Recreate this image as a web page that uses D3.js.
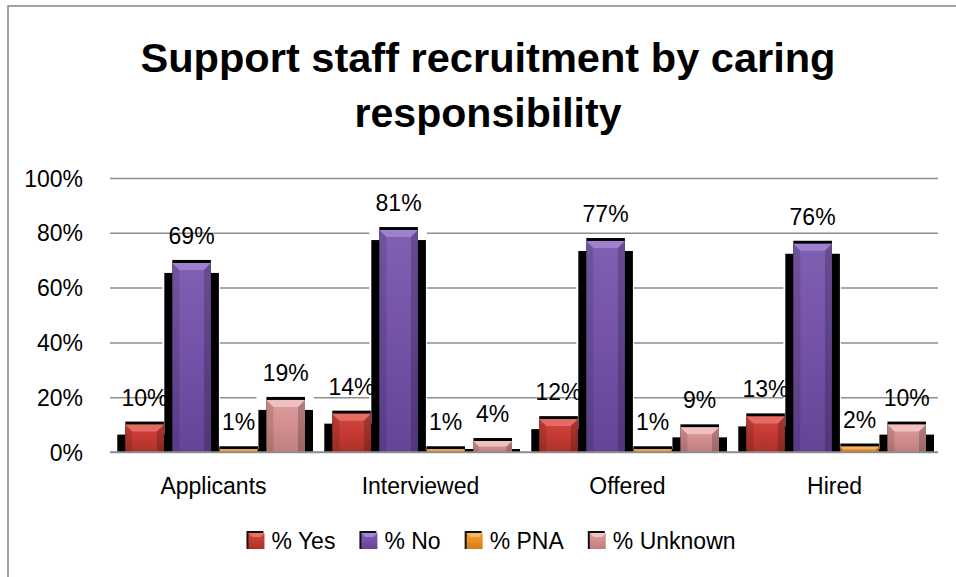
<!DOCTYPE html>
<html>
<head>
<meta charset="utf-8">
<script src="https://cdn.jsdelivr.net/npm/d3@7"></script>
<style>
  html, body { margin: 0; padding: 0; background: #fff; }
  svg { display: block; }
  text { font-family: "Liberation Sans", Arial, sans-serif; fill: #000; }
</style>
</head>
<body>
<svg id="chart" width="956" height="577"></svg>
<script>
// Recruitment stages and the share of candidates in each caring-responsibility group
const categories = ["Applicants", "Interviewed", "Offered", "Hired"];
const seriesNames = ["% Yes", "% No", "% PNA", "% Unknown"];
const yesValues = [10, 14, 12, 13];
const noValues = [69, 81, 77, 76];
const pnaValues = [1, 1, 1, 2];
const unknownValues = [19, 4, 9, 10];
const yTicks = [0, 20, 40, 60, 80, 100];
const titleLines = ["Support staff recruitment by caring", "responsibility"];

// Fill tones per series: base, highlight, shade
const palette = {
  "% Yes":     { base: "#C63B33", light: "#E8736B", dark: "#8F2520" },
  "% No":      { base: "#7453A8", light: "#A287D3", dark: "#4F3482" },
  "% PNA":     { base: "#EA9125", light: "#F6BA66", dark: "#B3640F" },
  "% Unknown": { base: "#D49090", light: "#F3C5C5", dark: "#A96868" }
};

const seriesValues = [yesValues, noValues, pnaValues, unknownValues];
const rows = categories.map((c, i) => ({
  category: c,
  values: seriesNames.map((s, j) => ({ series: s, value: seriesValues[j][i] }))
}));

const svg = d3.select("#chart");
const W = 956, H = 577;
const plot = { left: 110, right: 938, top: 178, bottom: 452 };

// Outer frame (runs off the right and bottom edges)
svg.append("rect")
  .attr("x", 8).attr("y", 6).attr("width", W + 20).attr("height", H + 20)
  .attr("fill", "#fff").attr("stroke", "#8a8a8a").attr("stroke-width", 1.6);

// Gradients
const defs = svg.append("defs");
seriesNames.forEach((s, i) => {
  const c = palette[s];
  const g = defs.append("linearGradient").attr("id", "body" + i)
    .attr("x1", 0).attr("y1", 0).attr("x2", 0).attr("y2", 1);
  g.append("stop").attr("offset", "0%").attr("stop-color", d3.interpolateRgb(c.base, c.light)(0.25));
  g.append("stop").attr("offset", "45%").attr("stop-color", c.base);
  g.append("stop").attr("offset", "100%").attr("stop-color", d3.interpolateRgb(c.base, c.dark)(0.45));
});

// Title
const title = svg.append("g").attr("class", "title");
[71.7, 126.7].forEach((yy, i) => {
  title.append("text")
    .attr("x", 488).attr("y", yy)
    .attr("text-anchor", "middle")
    .attr("font-size", 40).attr("font-weight", "bold")
    .attr("textLength", i === 0 ? 695 : 267)
    .attr("lengthAdjust", "spacingAndGlyphs")
    .text(titleLines[i]);
});

// Scales
const y = d3.scaleLinear().domain([0, 100]).range([plot.bottom, plot.top]);
const x0 = d3.scaleBand().domain(categories).range([plot.left, plot.right]).padding(0);
const x1 = d3.scaleBand().domain(seriesNames).range([0, x0.bandwidth()])
  .paddingInner(0.18).paddingOuter(0.29).align(0.56);

// Gridlines and value axis
const yAxis = svg.append("g")
  .attr("transform", `translate(${plot.left},0)`)
  .call(d3.axisLeft(y).tickValues(yTicks).tickFormat(d => d + "%")
    .tickSize(-(plot.right - plot.left)).tickPadding(27));
yAxis.select(".domain").remove();
yAxis.selectAll(".tick line").attr("stroke", "#8e8e8e").attr("stroke-width", 1.5);
yAxis.selectAll(".tick text").attr("font-size", 23)
  .attr("font-family", "'Liberation Sans', Arial, sans-serif").attr("fill", "#000")
  .attr("dy", "0.35em");

// Flattened bar records with pixel geometry from the scales
const barData = rows.flatMap(r => r.values.map(v => {
  const bx = x0(r.category) + x1(v.series), bw = x1.bandwidth();
  const top = y(v.value), base = y(0);
  return { ...v, idx: seriesNames.indexOf(v.series), bx, bw, top, base, h: base - top };
}));

// Layer 1: white halo breaking the gridlines around each bar
svg.append("g").selectAll("rect").data(barData).join("rect")
  .attr("x", d => d.bx - 10).attr("y", d => d.top - 5)
  .attr("width", d => d.bw + 19).attr("height", d => d.h + 5).attr("fill", "#fff");

// Layer 2: black drop shadow
const shadow = svg.append("g");
shadow.selectAll("rect.narrow").data(barData).join("rect").attr("class", "narrow")
  .attr("x", d => d.bx).attr("y", d => d.top - 3)
  .attr("width", d => d.bw).attr("height", d => d.h + 3).attr("fill", "#000");
shadow.selectAll("rect.wide").data(barData).join("rect").attr("class", "wide")
  .attr("x", d => d.bx - 8).attr("y", d => Math.min(d.top + 10, d.base - 3))
  .attr("width", d => d.bw + 16)
  .attr("height", d => d.base - Math.min(d.top + 10, d.base - 3)).attr("fill", "#000");

// Layer 3: bar bodies with bevels
const body = svg.append("g").selectAll("g").data(barData).join("g");
body.append("rect")
  .attr("x", d => d.bx).attr("y", d => d.top)
  .attr("width", d => d.bw).attr("height", d => d.h)
  .attr("fill", d => `url(#body${d.idx})`);
body.append("path")
  .attr("d", d => {
    const b = Math.min(7, d.h / 2, d.bw / 2);
    return `M${d.bx},${d.top}L${d.bx + d.bw},${d.top}L${d.bx + d.bw - b},${d.top + b}L${d.bx + b},${d.top + b}Z`;
  })
  .attr("fill", d => palette[d.series].light).attr("opacity", 0.85);
body.append("path")
  .attr("d", d => {
    const b = Math.min(7, d.h / 2, d.bw / 2);
    return `M${d.bx},${d.top}L${d.bx + b},${d.top + b}L${d.bx + b},${d.base}L${d.bx},${d.base}Z`;
  })
  .attr("fill", "#000").attr("opacity", 0.12);
body.append("path")
  .attr("d", d => {
    const b = Math.min(7, d.h / 2, d.bw / 2);
    const r = d.bx + d.bw;
    return `M${r},${d.top}L${r - b},${d.top + b}L${r - b},${d.base}L${r},${d.base}Z`;
  })
  .attr("fill", "#000").attr("opacity", 0.2);

// Baseline drawn over the bar bottoms
svg.append("line")
  .attr("x1", plot.left).attr("x2", plot.right)
  .attr("y1", y(0)).attr("y2", y(0))
  .attr("stroke", "#8e8e8e").attr("stroke-width", 1.5);

// Value labels
svg.append("g").selectAll("text").data(barData).join("text")
  .attr("x", d => d.bx + d.bw / 2).attr("y", d => d.top - 19)
  .attr("text-anchor", "middle").attr("font-size", 23)
  .text(d => d.value + "%");

// Category axis
const xAxis = svg.append("g")
  .attr("transform", `translate(0,${plot.bottom})`)
  .call(d3.axisBottom(x0).tickSize(0).tickPadding(25.7));
xAxis.select(".domain").remove();
xAxis.selectAll(".tick text").attr("font-size", 23)
  .attr("font-family", "'Liberation Sans', Arial, sans-serif").attr("fill", "#000");

// Legend
const legend = svg.append("g").attr("class", "legend");
const items = legend.selectAll("g").data(seriesNames).join("g");
items.append("text").attr("x", 23).attr("y", 549)
  .attr("font-size", 23).text(d => d);
const widths = [];
items.each(function () {
  widths.push(d3.select(this).select("text").node().getComputedTextLength());
});
const totalW = widths.reduce((a, w) => a + 23 + w, 0) + 26 * (widths.length - 1);
let cursor = 492 - totalW / 2;
items.each(function (d, i) {
  const gEl = d3.select(this).attr("transform", `translate(${cursor},0)`);
  const c = palette[d];
  gEl.insert("rect", "text").attr("x", -2).attr("y", 531).attr("width", 17).attr("height", 18).attr("fill", "#111");
  gEl.insert("rect", "text").attr("x", 0).attr("y", 533).attr("width", 16).attr("height", 16)
    .attr("fill", `url(#body${i})`);
  gEl.insert("path", "text")
    .attr("d", "M0,533L16,533L12,537L4,537Z").attr("fill", c.light);
  cursor += 23 + widths[i] + 26;
});
</script>
</body>
</html>
